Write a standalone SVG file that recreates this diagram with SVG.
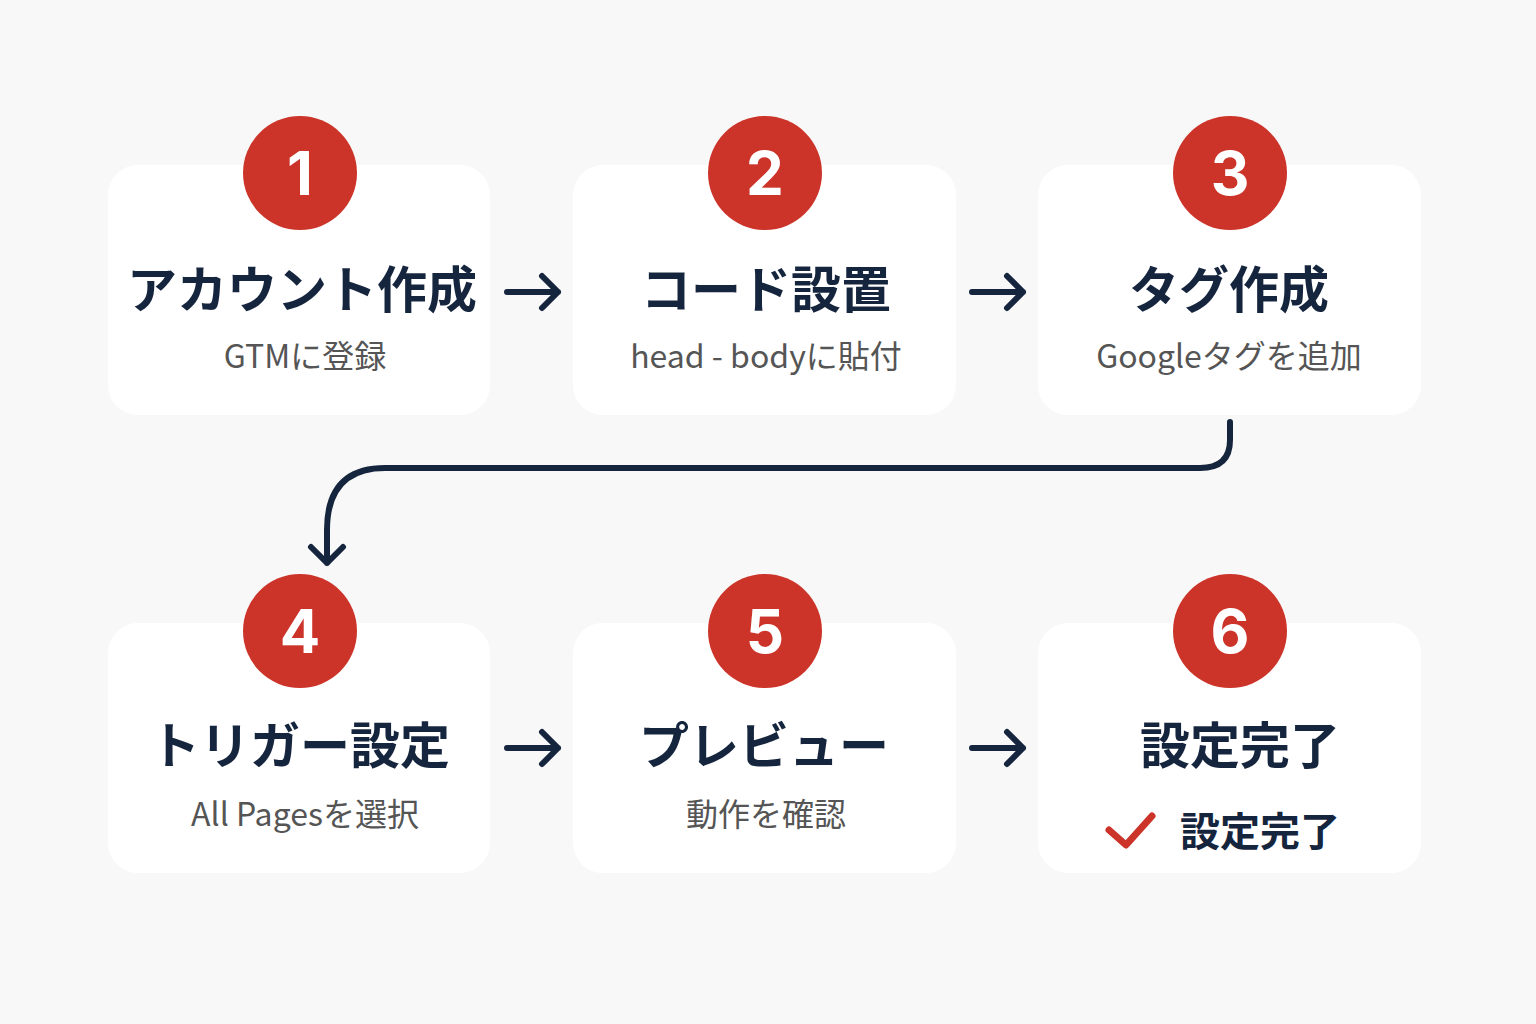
<svg xmlns="http://www.w3.org/2000/svg" width="1536" height="1024" viewBox="0 0 1536 1024">
<defs>
<style>
.card{fill:#ffffff}
.num{fill:#cc3329}
.numt{font-family:"Inter","Liberation Sans",sans-serif;font-weight:700;font-size:60px;fill:#fff;text-anchor:middle}
.title{font-family:"Noto Sans CJK JP",sans-serif;font-weight:700;font-size:50px;fill:#15253d;text-anchor:middle}
.sub{font-family:"Noto Sans CJK JP",sans-serif;font-size:32px;fill:#555;text-anchor:middle}
.conn{fill:none;stroke:#15253d;stroke-width:6;stroke-linecap:round;stroke-linejoin:round}
</style>
</defs>
<rect width="1536" height="1024" fill="#f8f8f8"/>
<g id="node1"><rect class="card" x="108" y="165" width="382" height="250" rx="30"/><circle class="num" cx="300" cy="173" r="57"/><text class="numt" x="300" y="195">1</text><text class="title" x="302" y="308">アカウント作成</text><text class="sub" x="305" y="368">GTMに登録</text></g>
<g id="node2"><rect class="card" x="573" y="165" width="383" height="250" rx="30"/><circle class="num" cx="765" cy="173" r="57"/><text class="numt" x="765" y="195">2</text><text class="title" x="766" y="308">コード設置</text><text class="sub" x="766" y="368">head - bodyに貼付</text></g>
<g id="node3"><rect class="card" x="1038" y="165" width="383" height="250" rx="30"/><circle class="num" cx="1230" cy="173" r="57"/><text class="numt" x="1230" y="195">3</text><text class="title" x="1229" y="308">タグ作成</text><text class="sub" x="1229" y="368">Googleタグを追加</text></g>
<g id="node4"><rect class="card" x="108" y="623" width="382" height="250" rx="30"/><circle class="num" cx="300" cy="631" r="57"/><text class="numt" x="300" y="653">4</text><text class="title" x="300" y="764">トリガー設定</text><text class="sub" x="305" y="826">All Pagesを選択</text></g>
<g id="node5"><rect class="card" x="573" y="623" width="383" height="250" rx="30"/><circle class="num" cx="765" cy="631" r="57"/><text class="numt" x="765" y="653">5</text><text class="title" x="764" y="764">プレビュー</text><text class="sub" x="766" y="826">動作を確認</text></g>
<g id="node6"><rect class="card" x="1038" y="623" width="383" height="250" rx="30"/><circle class="num" cx="1230" cy="631" r="57"/><text class="numt" x="1230" y="653">6</text><text class="title" x="1240" y="764">設定完了</text><path d="M1109 830 L1126 845 L1152 816" fill="none" stroke="#cc3329" stroke-width="7" stroke-linecap="round" stroke-linejoin="round"/><text x="1260" y="846" style="font-family:'Noto Sans CJK JP',sans-serif;font-weight:700;font-size:40px;fill:#15253d;text-anchor:middle">設定完了</text></g>
<g id="connectors">
<path class="conn" d="M507 292 H558 M542 276 L558 292 L542 308"/>
<path class="conn" d="M972 292 H1023 M1007 276 L1023 292 L1007 308"/>
<path class="conn" d="M507 748 H558 M542 732 L558 748 L542 764"/>
<path class="conn" d="M972 748 H1023 M1007 732 L1023 748 L1007 764"/>
<path class="conn" d="M1230 422 V440 Q1230 468 1200 468 H385 Q327 468 327 530 V563 M311 547 L327 563 L343 547"/>
</g>
</svg>
